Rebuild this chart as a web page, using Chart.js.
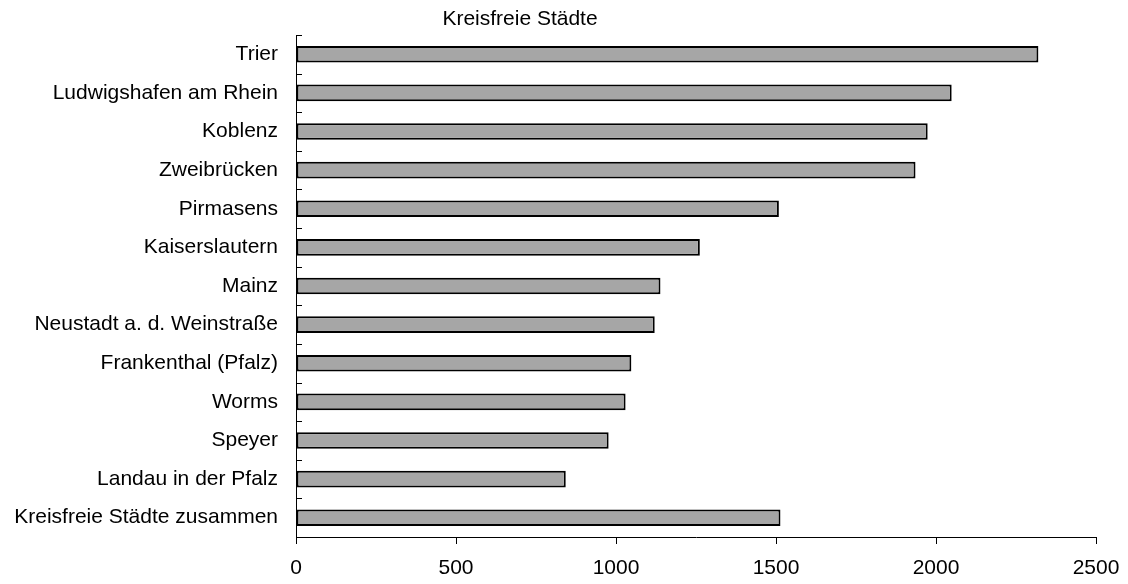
<!DOCTYPE html>
<html>
<head>
<meta charset="utf-8">
<script src="https://cdn.jsdelivr.net/npm/chart.js@4/dist/chart.umd.min.js"></script>
<style>
html,body{margin:0;padding:0;background:#fff;}
#wrap{width:1128px;height:584px;position:relative;}
</style>
</head>
<body>
<div id="wrap"><canvas id="c"></canvas></div>
<script>
const chartTitle = 'Kreisfreie Städte';
const categories = [
  'Trier',
  'Ludwigshafen am Rhein',
  'Koblenz',
  'Zweibrücken',
  'Pirmasens',
  'Kaiserslautern',
  'Mainz',
  'Neustadt a. d. Weinstraße',
  'Frankenthal (Pfalz)',
  'Worms',
  'Speyer',
  'Landau in der Pfalz',
  'Kreisfreie Städte zusammen'
];
const values = [2320, 2049, 1974, 1936, 1509, 1262, 1139, 1121, 1048, 1030, 977, 843, 1514];
const xMin = 0;
const xMax = 2500;
const xStep = 500;

const FONT = '"Liberation Sans", Arial, sans-serif';

const innerTicks = {
  id: 'innerTicks',
  afterDatasetsDraw(chart) {
    const {ctx, chartArea, scales} = chart;
    const y = scales.y;
    ctx.save();
    ctx.strokeStyle = '#000';
    ctx.lineWidth = 1;
    for (let i = 0; i <= categories.length; i++) {
      const py = Math.round(y.getPixelForValue(i - 0.5)) + 0.5;
      ctx.beginPath();
      ctx.moveTo(chartArea.left, py);
      ctx.lineTo(chartArea.left + 6, py);
      ctx.stroke();
    }
    ctx.restore();
  }
};

const offsetTitle = {
  id: 'offsetTitle',
  afterDraw(chart) {
    const {ctx, chartArea} = chart;
    ctx.save();
    ctx.fillStyle = '#000';
    ctx.font = '21px ' + FONT;
    ctx.textAlign = 'center';
    ctx.textBaseline = 'middle';
    ctx.fillText(chartTitle, chartArea.left + 224, 19);
    ctx.restore();
  }
};

new Chart(document.getElementById('c'), {
  type: 'bar',
  data: {
    labels: categories,
    datasets: [{
      data: values,
      backgroundColor: '#a6a6a6',
      borderColor: '#000',
      borderWidth: 2,
      borderSkipped: false,
      categoryPercentage: 1,
      barPercentage: 0.43
    }]
  },
  options: {
    indexAxis: 'y',
    responsive: true,
    maintainAspectRatio: false,
    devicePixelRatio: 1,
    animation: false,
    layout: { padding: { left: 0, top: 35, right: 32, bottom: 0 } },
    plugins: {
      legend: { display: false },
      title: { display: false },
      tooltip: { enabled: false }
    },
    scales: {
      x: {
        type: 'linear',
        min: xMin,
        max: xMax,
        ticks: {
          stepSize: xStep,
          color: '#000',
          font: { family: FONT, size: 21 },
          padding: 12,
          maxRotation: 0,
          callback: (v) => String(v)
        },
        grid: {
          drawOnChartArea: false,
          drawTicks: true,
          tickLength: 7,
          color: '#000'
        },
        border: { color: '#000', width: 1 },
        afterFit(scale) {
          scale.height = 47;
          scale.paddingLeft = 0;
          scale.paddingRight = 0;
        }
      },
      y: {
        type: 'category',
        ticks: {
          color: '#000',
          font: { family: FONT, size: 21 },
          padding: 10,
          autoSkip: false
        },
        grid: { display: false },
        border: { color: '#000', width: 1 },
        afterFit(scale) {
          scale.width = 296;
          scale.paddingTop = 0;
          scale.paddingBottom = 0;
        }
      }
    }
  },
  plugins: [innerTicks, offsetTitle]
});
</script>
</body>
</html>
